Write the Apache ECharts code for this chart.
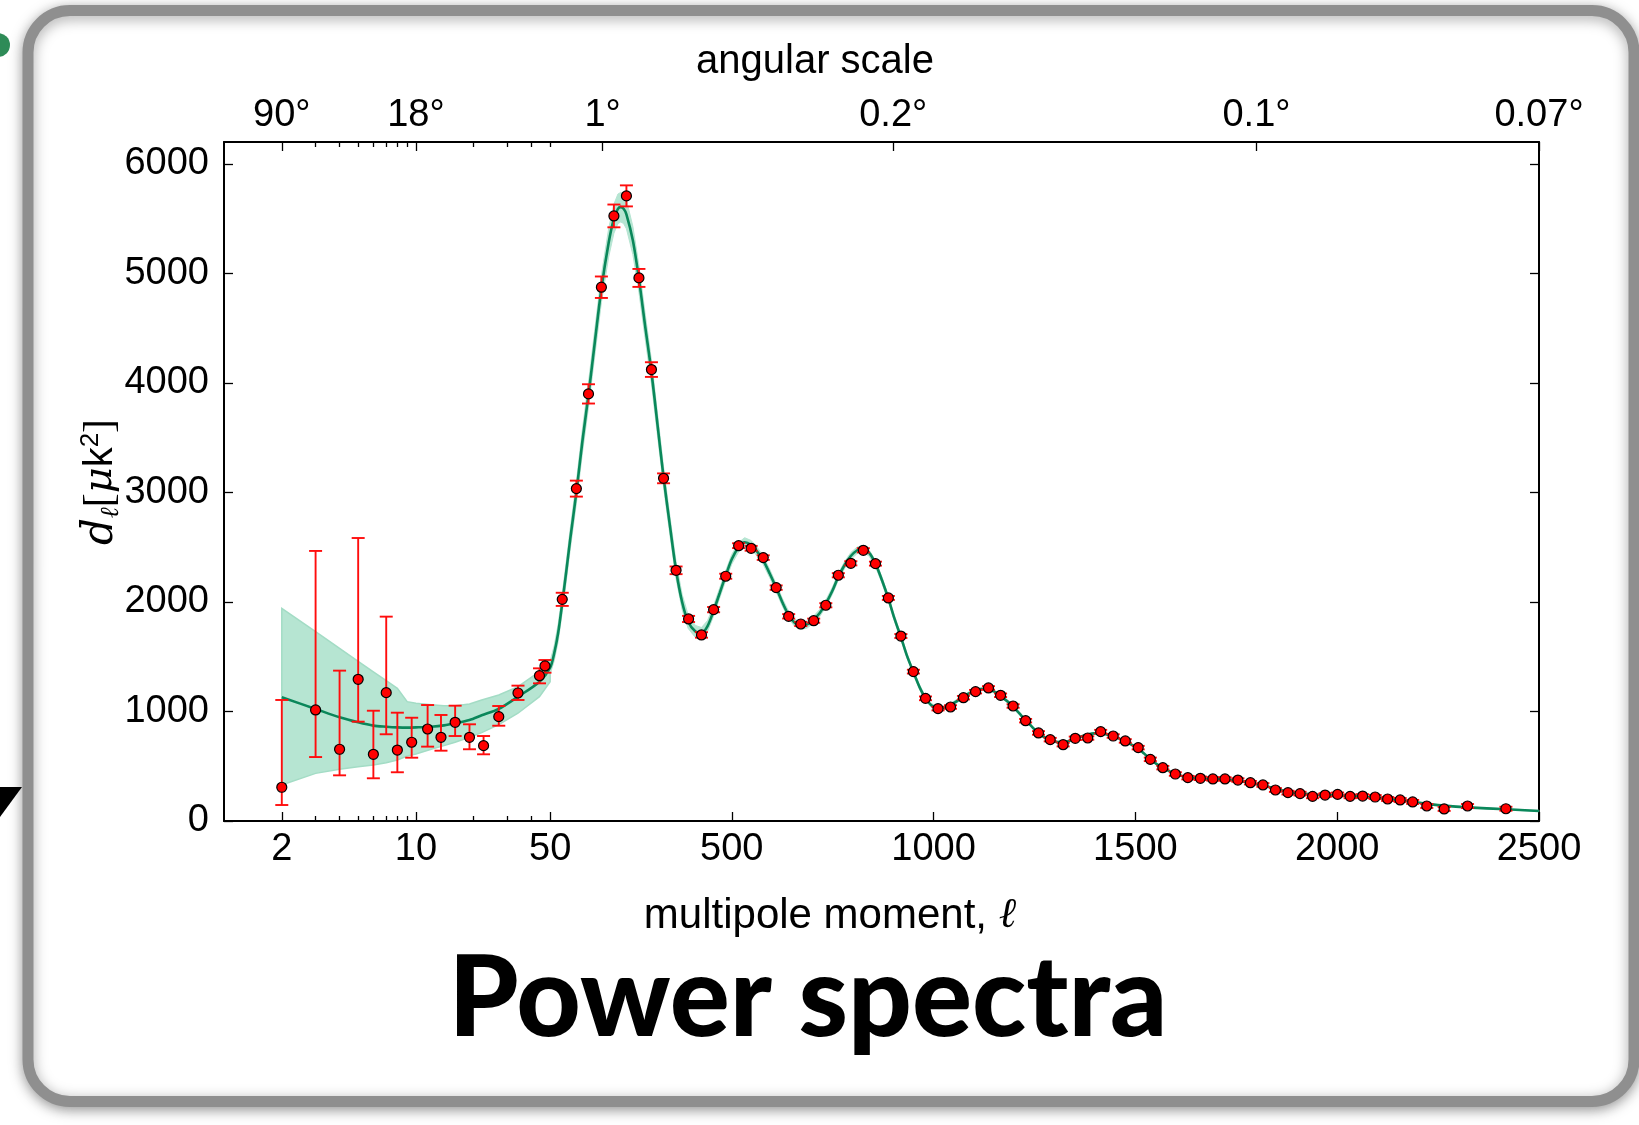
<!DOCTYPE html>
<html>
<head>
<meta charset="utf-8">
<script src="https://cdn.jsdelivr.net/npm/echarts@6/dist/echarts.min.js"></script>
<style>
html,body{margin:0;padding:0;background:#ffffff;}
#c{width:1639px;height:1125px;}
</style>
</head>
<body>
<div id="c"></div>
<script>
// ---------------- DATA ----------------
// bottom axis tick labels (multipole moment)
const xTickL = [2, 10, 50, 500, 1000, 1500, 2000, 2500];
const xMinorL = [3, 4, 5, 6, 7, 8, 9, 20, 30, 40];
// top axis (angular scale)
const angTickL = [2, 10, 180, 900, 1800, 2500];
const angTickLabels = ['90°', '18°', '1°', '0.2°', '0.1°', '0.07°'];
const angMinorL = [3, 4, 5, 6, 7, 8, 9, 20, 30, 40, 50];
// y ticks
const yTicks = [0, 1000, 2000, 3000, 4000, 5000, 6000];

// best-fit model curve (ℓ, D_ℓ)
const curveL = [2,3,4,5,6,7,8,9,10,12,14,16,19,22,27,34,44,50,
  60,70,80,90,100,
  115,130,145,160,177,195,208,218,225,232,239,
  255,270,285,301,316,331,347,362,377,392,
  410,425,440,455,470,485,500,517,532,548,
  563,578,594,610,625,641,656,671,687,703,
  718,733,749,764,780,795,810,822,840,856,
  872,888,903,919,934,950,965,980,995,1011,
  1026,1042,1058,1074,1089,1104,1120,1136,1151,1166,
  1182,1197,1212,1228,1244,1259,1274,1289,1305,1321,
  1336,1351,1366,1382,1398,1414,1430,1445,1460,1474,
  1490,1507,1522,1537,1552,1568,1584,1599,1615,1630,
  1661,1692,1722,1754,1785,1816,1847,1878,1908,1939,
  1970,2001,2032,2063,2094,2125,2156,2187,2222,2265,
  2323,2418,2500];
const curveD = [1130,1023,947,901,871,861,855,853,855,861,873,892,922,965,1023,1135,1272,1400,
  1530,1720,1990,2280,2580,
  3000,3470,3890,4350,4860,5280,5500,5590,5605,5590,5540,
  5300,4950,4530,4100,3620,3140,2690,2290,2000,1820,
  1730,1715,1780,1920,2080,2240,2390,2500,2545,2520,
  2460,2380,2260,2130,2000,1880,1810,1780,1795,1840,
  1900,1985,2100,2230,2340,2420,2470,2485,2450,2350,
  2200,2030,1850,1680,1510,1360,1225,1120,1055,1030,
  1035,1060,1095,1135,1168,1190,1205,1205,1180,1140,
  1095,1045,985,920,860,805,765,738,722,720,
  730,750,772,790,800,800,790,775,752,727,
  698,662,615,565,522,485,455,430,410,398,
  388,383,378,368,348,325,295,268,252,242,
  237,234,228,221,212,201,189,175,158,140,
  124,107,92];

// cosmic-variance band, low ℓ (explicit edges)
const lowBandL  = [2,3,4,5,6,7,8,9,10,12,14,16,19,22,27,34,44,50];
const lowBandHi = [1942,1729,1577,1458,1361,1281,1212,1090,1075,1062,1053,1053,1068,1105,1151,1227,1364,1470];
const lowBandLo = [329,435,472,496,511,532,557,594,612,655,688,719,764,807,880,984,1135,1272];
// band half-width for the curve points with ℓ >= 50
const bandHalf = [60,
  70,80,85,90,95,
  100,110,115,120,125,130,133,135,135,135,132,
  128,122,115,108,100,92,85,78,70,62,
  55,52,50,48,46,45,44,43,42,41,
  40,39,38,37,35,34,33,32,32,32,
  32,32,32,32,31,31,30,30,29,28,
  27,26,25,23,22,20,19,18,17,16,
  15,15,15,15,15,15,14,14,14,13,
  13,12,12,11,11,10,10,10,9,9,
  9,9,9,9,9,9,9,8,8,8,
  8,8,7,7,7,7,6,6,6,6,
  6,6,6,6,5,5,5,5,5,5,
  5,5,5,5,5,5,5,5,5,5,
  5,5,5];

// measured points
const ptL = [2,3,4,5,6,7,8,9.5,11.5,13.5,16,19,22.5,27,34,44,47,
  80,115,145,177,208,239,270,301,331,362,
  393,425,455,485,517,548,578,610,641,671,
  703,733,764,795,826,856,888,919,950,980,
  1011,1042,1074,1104,1136,1166,1197,1228,1260,1289,
  1321,1351,1382,1414,1445,1475,1507,1537,1568,1599,
  1630,1661,1692,1722,1754,1785,1816,1847,1878,1908,
  1939,1970,2001,2032,2063,2094,2125,2156,2187,2222,
  2265,2323,2418];
const ptD = [308,1014,655,1294,609,1172,648,719,840,764,901,764,688,953,1169,1327,1416,
  2024,3035,3900,4874,5525,5708,4959,4122,3129,2289,
  1845,1699,1930,2235,2514,2490,2405,2131,1869,1799,
  1829,1970,2244,2353,2472,2350,2037,1689,1364,1120,
  1026,1041,1126,1181,1215,1148,1050,916,804,743,
  697,755,758,816,776,731,670,563,487,429,
  396,390,384,384,374,350,329,283,259,250,
  225,237,243,225,228,219,201,192,174,137,
  110,137,112];
const ptErrUp = [797,1452,718,1290,398,694,341,224,219,204,152,119,88,97,67,67,54,
  60,73,88,98,104,96,82,67,45,35,
  28,25,24,23,22,22,21,20,20,19,
  19,19,19,19,19,18,18,18,17,17,
  16,16,16,16,16,16,16,16,16,16,
  16,16,16,16,16,16,16,16,16,16,
  16,16,16,16,16,16,17,17,17,17,
  17,17,17,17,17,18,18,18,18,18,
  18,18,18];
const ptErrDn = [162,430,238,387,219,380,203,141,161,122,125,109,79,83,64,70,62,
  60,73,88,98,104,96,82,67,45,35,
  28,25,24,23,22,22,21,20,20,19,
  19,19,19,19,19,18,18,18,17,17,
  16,16,16,16,16,16,16,16,16,16,
  16,16,16,16,16,16,16,16,16,16,
  16,16,16,16,16,16,17,17,17,17,
  17,17,17,17,17,18,18,18,18,18,
  18,18,18];

// ---------------- SCALE (log below ℓ=50, linear above) ----------------
const LOG_W = 475.6;
function T(l) { return l <= 50 ? LOG_W * Math.log10(l) : LOG_W * Math.log10(50) + (l - 50); }
const XMAX = T(2500);

const hiIdx = curveL.map((l, i) => i).filter(i => curveL[i] >= 50);
if (hiIdx.length !== bandHalf.length || curveL.length !== curveD.length ||
    ptL.length !== ptD.length || ptL.length !== ptErrUp.length || ptL.length !== ptErrDn.length) {
  console.error('length mismatch', hiIdx.length, bandHalf.length, curveL.length, curveD.length, ptL.length, ptD.length, ptErrUp.length, ptErrDn.length);
}

function nearestLabel(v, Ls, labels) {
  let bi = 0, bd = Infinity;
  Ls.forEach((l, i) => { const d = Math.abs(T(l) - v); if (d < bd) { bd = d; bi = i; } });
  return labels[bi];
}

const labelFont = "'Liberation Sans Narrow','Liberation Sans',Arial,sans-serif";
const textFont = "'Liberation Sans',Arial,sans-serif";

const chart = echarts.init(document.getElementById('c'), null, { renderer: 'canvas', width: 1639, height: 1125 });

const axisBase = { type: 'value', min: 0, max: XMAX, splitLine: { show: false }, gridIndex: 0 };
const tickStyle = { color: '#000', width: 1.3 };
const lineOn = { show: true, onZero: false, lineStyle: { color: '#000', width: 2 } };
const lineOff = { show: false, onZero: false };

const option = {
  animation: false,
  backgroundColor: '#ffffff',
  grid: { left: 224, right: 100, top: 142, bottom: 304, containLabel: false },
  xAxis: [
    Object.assign({}, axisBase, {
      position: 'bottom', axisLine: lineOn,
      axisTick: { show: true, inside: true, length: 9, lineStyle: tickStyle, customValues: xTickL.map(T) },
      axisLabel: { show: true, customValues: xTickL.map(T), hideOverlap: false,
        formatter: v => nearestLabel(v, xTickL, xTickL.map(String)),
        color: '#000', fontSize: 38, fontFamily: labelFont, margin: 10 }
    }),
    Object.assign({}, axisBase, {
      position: 'top', axisLine: lineOn,
      axisTick: { show: true, inside: true, length: 9, lineStyle: tickStyle, customValues: angTickL.map(T) },
      axisLabel: { show: true, customValues: angTickL.map(T), hideOverlap: false,
        formatter: v => nearestLabel(v, angTickL, angTickLabels),
        color: '#000', fontSize: 38, fontFamily: labelFont, margin: 7 }
    }),
    Object.assign({}, axisBase, {
      position: 'bottom', axisLine: lineOff,
      axisTick: { show: true, inside: true, length: 5, lineStyle: tickStyle, customValues: xMinorL.map(T) },
      axisLabel: { show: false }
    }),
    Object.assign({}, axisBase, {
      position: 'top', axisLine: lineOff,
      axisTick: { show: true, inside: true, length: 5, lineStyle: tickStyle, customValues: angMinorL.map(T) },
      axisLabel: { show: false }
    })
  ],
  yAxis: [
    { type: 'value', min: 0, max: 6200, position: 'left', splitLine: { show: false },
      axisLine: lineOn,
      axisTick: { show: true, inside: true, length: 9, lineStyle: tickStyle, customValues: yTicks },
      axisLabel: { show: true, customValues: yTicks, formatter: v => String(Math.round(v)),
        color: '#000', fontSize: 38, fontFamily: labelFont, margin: 15 } },
    { type: 'value', min: 0, max: 6200, position: 'right', splitLine: { show: false },
      axisLine: lineOn,
      axisTick: { show: true, inside: true, length: 9, lineStyle: tickStyle, customValues: yTicks },
      axisLabel: { show: false } }
  ],
  series: [
    { // low-ℓ cosmic variance band
      type: 'custom', z: 1, silent: true,
      data: lowBandL.map((l, i) => [T(l), lowBandLo[i], lowBandHi[i]]),
      encode: { x: 0, y: [1, 2] },
      renderItem: function (params, api) {
        if (params.dataIndex !== 0) return null;
        const pts = [];
        for (let i = 0; i < lowBandL.length; i++) pts.push(api.coord([T(lowBandL[i]), lowBandHi[i]]));
        for (let i = lowBandL.length - 1; i >= 0; i--) pts.push(api.coord([T(lowBandL[i]), lowBandLo[i]]));
        return { type: 'polygon', shape: { points: pts }, style: { fill: '#b6e5d2', stroke: '#a3dcc5', lineWidth: 1.5 } };
      }
    },
    { // high-ℓ band around the model
      type: 'custom', z: 1, silent: true,
      data: hiIdx.map((ci, k) => [T(curveL[ci]), curveD[ci] - bandHalf[k], curveD[ci] + bandHalf[k]]),
      encode: { x: 0, y: [1, 2] },
      renderItem: function (params, api) {
        if (params.dataIndex !== 0) return null;
        const pts = [];
        for (let k = 0; k < hiIdx.length; k++) { const ci = hiIdx[k]; pts.push(api.coord([T(curveL[ci]), curveD[ci] + bandHalf[k]])); }
        for (let k = hiIdx.length - 1; k >= 0; k--) { const ci = hiIdx[k]; pts.push(api.coord([T(curveL[ci]), curveD[ci] - bandHalf[k]])); }
        return { type: 'polygon', shape: { points: pts }, style: { fill: '#b6e5d2', stroke: '#b6e5d2', lineWidth: 1 } };
      }
    },
    { // model curve
      type: 'line', z: 2, silent: true, smooth: 0.3, showSymbol: false, symbol: 'none',
      data: curveL.map((l, i) => [T(l), curveD[i]]),
      lineStyle: { color: '#0a875a', width: 2.6 }
    },
    { // error bars
      type: 'custom', z: 3, silent: true,
      data: ptL.map((l, i) => [T(l), ptD[i] - ptErrDn[i], ptD[i] + ptErrUp[i]]),
      encode: { x: 0, y: [1, 2] },
      renderItem: function (params, api) {
        const x = api.value(0);
        const p1 = api.coord([x, api.value(2)]);
        const p2 = api.coord([x, api.value(1)]);
        const w = 6.5;
        const st = { stroke: '#ff0d0d', lineWidth: 1.9 };
        return { type: 'group', children: [
          { type: 'line', shape: { x1: p1[0], y1: p1[1], x2: p2[0], y2: p2[1] }, style: st },
          { type: 'line', shape: { x1: p1[0] - w, y1: p1[1], x2: p1[0] + w, y2: p1[1] }, style: st },
          { type: 'line', shape: { x1: p2[0] - w, y1: p2[1], x2: p2[0] + w, y2: p2[1] }, style: st }
        ] };
      }
    },
    { // data points
      type: 'scatter', z: 4, silent: true, symbol: 'circle', symbolSize: 10,
      data: ptL.map((l, i) => [T(l), ptD[i]]),
      itemStyle: { color: '#ff0000', borderColor: '#000', borderWidth: 1.2, opacity: 1 }
    }
  ],
  graphic: [
    { type: 'rect', z: -10, silent: true,
      shape: { x: 28, y: 10.5, width: 1606, height: 1091, r: 42 },
      style: { fill: '#ffffff', stroke: '#8f8f8f', lineWidth: 11,
        shadowBlur: 14, shadowColor: 'rgba(0,0,0,0.35)', shadowOffsetX: 0, shadowOffsetY: 3 } },
    { type: 'circle', z: 5, silent: true, shape: { cx: -2, cy: 45, r: 12 }, style: { fill: '#2e8b57' } },
    { type: 'polygon', z: 5, silent: true, shape: { points: [[0, 787], [22, 787], [0, 817]] }, style: { fill: '#000' } },
    { type: 'text', z: 5, silent: true, x: 815, y: 62,
      style: { text: 'angular scale', fontSize: 40, fontFamily: textFont, fill: '#000', align: 'center', verticalAlign: 'middle' } },
    { type: 'text', z: 5, silent: true, x: 830, y: 916,
      style: { text: '{a|multipole moment, }{b|ℓ}', align: 'center', verticalAlign: 'middle',
        rich: { a: { fontSize: 42, fontFamily: textFont, fill: '#000' },
                b: { fontSize: 42, fontFamily: "'DejaVu Serif',serif", fontStyle: 'italic', fill: '#000' } } } },
    { type: 'text', z: 5, silent: true, x: 101, y: 482, rotation: Math.PI / 2,
      style: { text: '{d|d}{s|ℓ}{n|[}{m|μ}{k|k}{p|2}{n|]}', align: 'center', verticalAlign: 'middle',
        rich: {
          d: { fontSize: 42, fontFamily: "'DejaVu Serif',serif", fontStyle: 'italic', fill: '#000', lineHeight: 46, verticalAlign: 'middle' },
          s: { fontSize: 26, fontFamily: "'DejaVu Serif',serif", fontStyle: 'italic', fill: '#000', lineHeight: 26, verticalAlign: 'bottom' },
          n: { fontSize: 42, fontFamily: "'Liberation Serif',serif", fill: '#000', lineHeight: 46, verticalAlign: 'middle' },
          m: { fontSize: 40, fontFamily: "'DejaVu Serif',serif", fontStyle: 'italic', fill: '#000', lineHeight: 46, verticalAlign: 'middle' },
          k: { fontSize: 40, fontFamily: textFont, fill: '#000', lineHeight: 46, verticalAlign: 'middle' },
          p: { fontSize: 26, fontFamily: textFont, fill: '#000', lineHeight: 26, verticalAlign: 'top' }
        } } },
    { type: 'text', z: 5, silent: true, x: 808, y: 1000,
      style: { text: 'Power spectra', fontSize: 112, fontWeight: 900, fontFamily: "Lato,'Noto Sans',sans-serif",
        fill: '#000', align: 'center', verticalAlign: 'middle' } }
  ]
};
chart.setOption(option);
</script>
</body>
</html>
